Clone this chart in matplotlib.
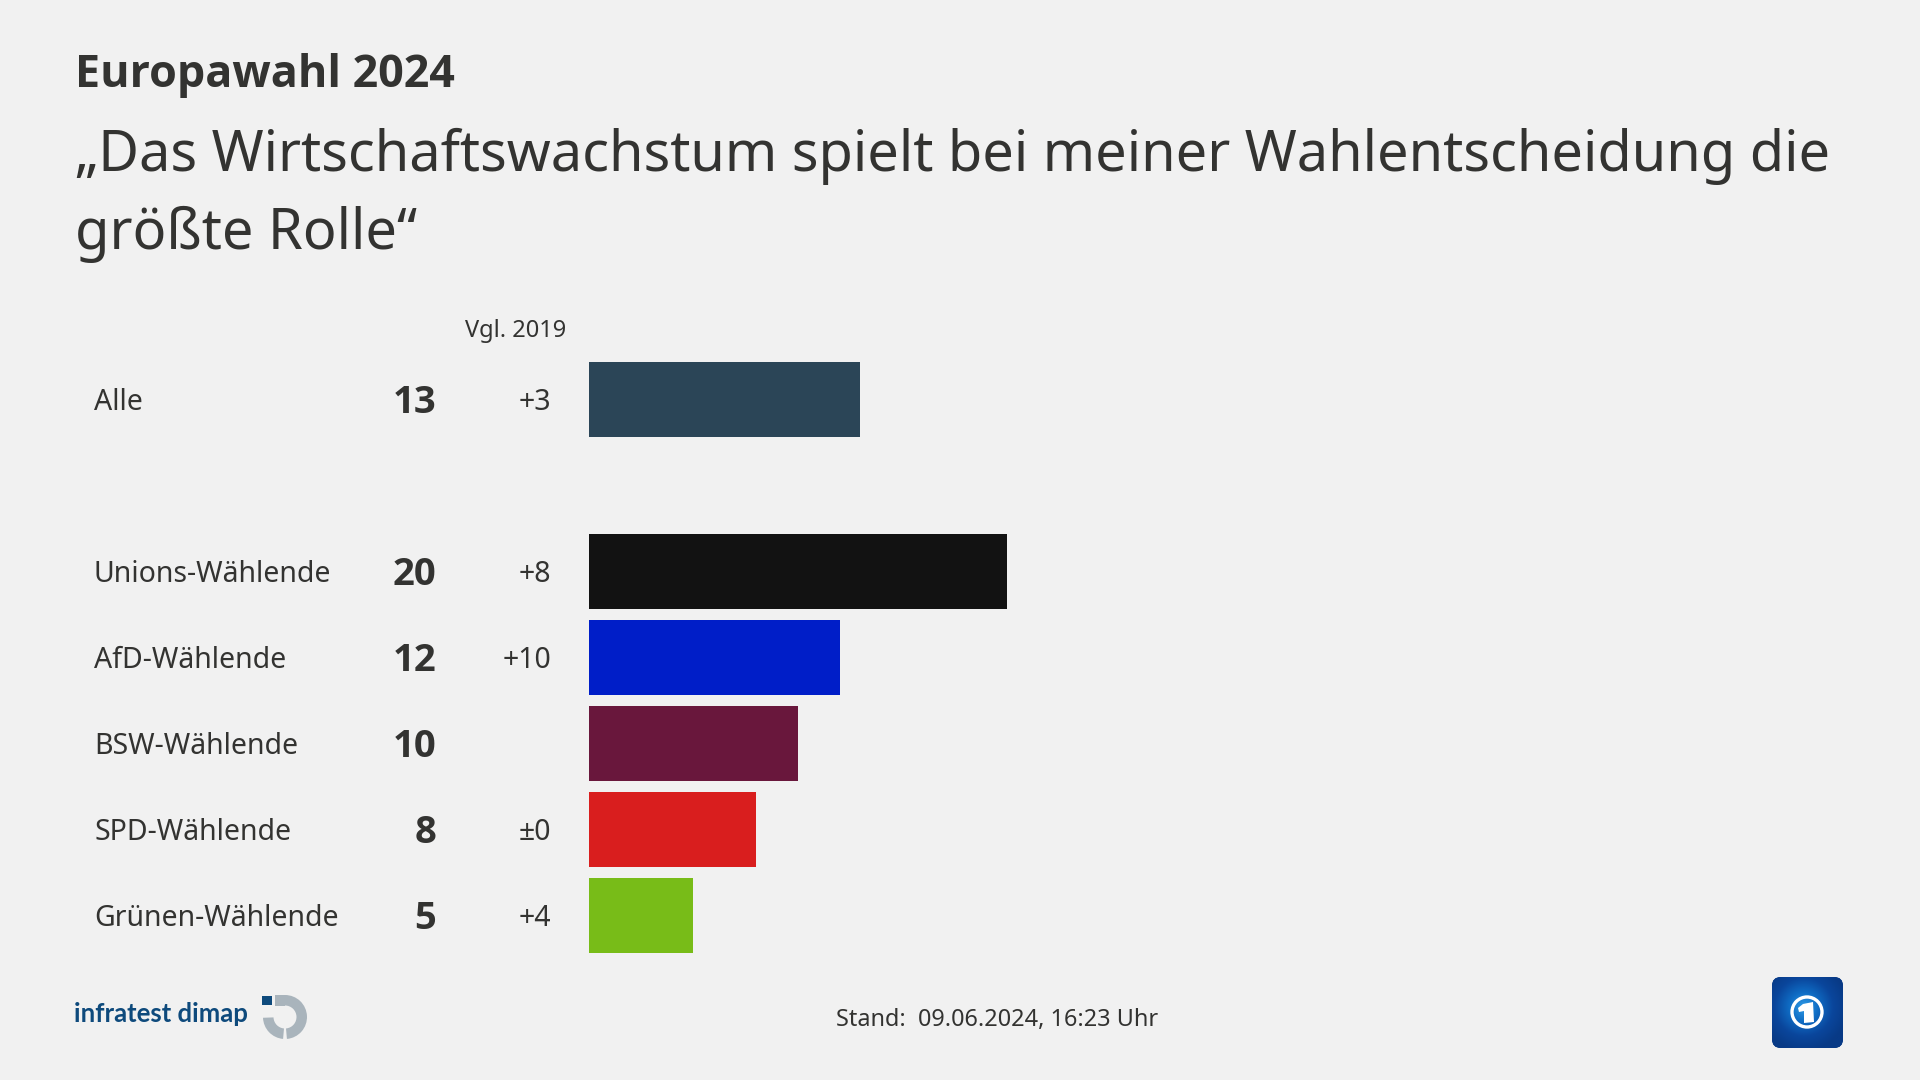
import numpy as np
import matplotlib
matplotlib.use("Agg")
import matplotlib.pyplot as plt
from matplotlib.colors import LinearSegmentedColormap
from matplotlib.patches import Circle, FancyBboxPatch, Rectangle, Wedge, Polygon

# -------------------------------
# DATA
# -------------------------------

kicker = "Europawahl 2024"
title_lines = ["„Das Wirtschaftswachstum spielt bei meiner Wahlentscheidung die", "größte Rolle“"]
compare_label = "Vgl. 2019"
footer = "Stand:  09.06.2024, 16:23 Uhr"
logo_text = "infratest dimap"

groups = ["Alle", "Unions-Wählende", "AfD-Wählende", "BSW-Wählende", "SPD-Wählende", "Grünen-Wählende"]
values = [13, 20, 12, 10, 8, 5]
changes = ["+3", "+8", "+10", "", "±0", "+4"]
slots = [0, 2, 3, 4, 5, 6]
colors = ["#2b4557", "#121212", "#001ec8", "#69173c", "#d91e1e", "#78bc18"]

BG = "#f1f1f1"
INK = "#333331"
W, H = 1920, 1080
BOLD = ["Open Sans", "DejaVu Sans"]

plt.rcParams['font.family'] = ['Noto Sans', 'DejaVu Sans']

fig = plt.figure(figsize=(19.2, 10.8), dpi=100, facecolor=BG)

# pixel canvas for text and logos
canvas = fig.add_axes([0, 0, 1, 1])
canvas.axis("off")

# bar axes: left edge at x=589, one slot = 86px, slot 0 centred on y=399
ax = fig.add_axes([589 / W, 1 - 996 / H, 1200 / W, 640 / H])
ax.patch.set_alpha(0)
ax.set_xlim(0, 1200 / 20.88)
ax.set_ylim(-0.5 + 640 / 86, -0.5)
ax.axis("off")
ax.barh(slots, values, height=75 / 86, color=colors)


def row_y(slot):
    return 403 + slot * 86


# -------------------------------
# TEXT
# -------------------------------

canvas.text(75, 75, kicker, fontsize=32.3, fontweight="bold", color=INK, va="center", ha="left", family=BOLD)
canvas.text(75, 156, title_lines[0], fontsize=40.3, color=INK, va="center", ha="left")
canvas.text(75, 234, title_lines[1], fontsize=40.3, color=INK, va="center", ha="left")
canvas.text(566, 331, compare_label, fontsize=17, color=INK, va="center", ha="right")

for name, val, ch, s in zip(groups, values, changes, slots):
    y = row_y(s)
    canvas.text(94, y, name, fontsize=20.5, color=INK, va="center", ha="left")
    canvas.text(436, y, str(val), fontsize=27.5, fontweight="bold", color=INK, va="center", ha="right", family=BOLD)
    canvas.text(551, y, ch, fontsize=20.5, color=INK, va="center", ha="right")

canvas.text(997, 1020, footer, fontsize=16.9, color=INK, va="center", ha="center")

# -------------------------------
# LOGOS
# -------------------------------

canvas.text(74, 1014, logo_text, fontsize=18.5, fontweight="bold", color="#0e4a7c", va="center", ha="left",
            family=["Lato", "DejaVu Sans"])
canvas.add_patch(Wedge((285, 1017), 22, -90, 85, width=10.5, color="#a9b4bc", lw=0))
canvas.add_patch(Wedge((285, 1017), 22, 95, 178, width=10.5, color="#a9b4bc", lw=0))
canvas.add_patch(Rectangle((262, 996), 10, 9, color="#0e4a7c", lw=0))
canvas.add_patch(Rectangle((275, 995), 10, 11, color="#a9b4bc", lw=0))

# tagesschau style icon
icon_cmap = LinearSegmentedColormap.from_list("icon", ["#2f9be6", "#0f6cc4", "#0a469c", "#083a86"])
box = FancyBboxPatch((1772, 977), 71, 71, boxstyle="round,pad=0,rounding_size=9", fc="#083a86", ec="none")
canvas.add_patch(box)
yy, xx = np.mgrid[0:1:90j, 0:1:90j]
shade = np.clip(np.hypot(xx - 0.45, yy - 0.42) / 0.62, 0, 1)
im = canvas.imshow(shade, extent=(1772, 1843, 1048, 977), cmap=icon_cmap, vmin=0, vmax=1, zorder=2, aspect="auto")
im.set_clip_path(box)
canvas.set_xlim(0, W)
canvas.set_ylim(H, 0)
canvas.add_patch(Circle((1807, 1012), 15, fc="none", ec="white", lw=2.4, zorder=3))
canvas.add_patch(Polygon([[1803, 1004], [1813, 1002], [1814, 1022], [1804, 1023], [1804, 1011], [1799, 1012], [1798, 1008]],
                         fc="white", ec="none", zorder=3))

fig.savefig("out.png", dpi=100, facecolor=BG)
